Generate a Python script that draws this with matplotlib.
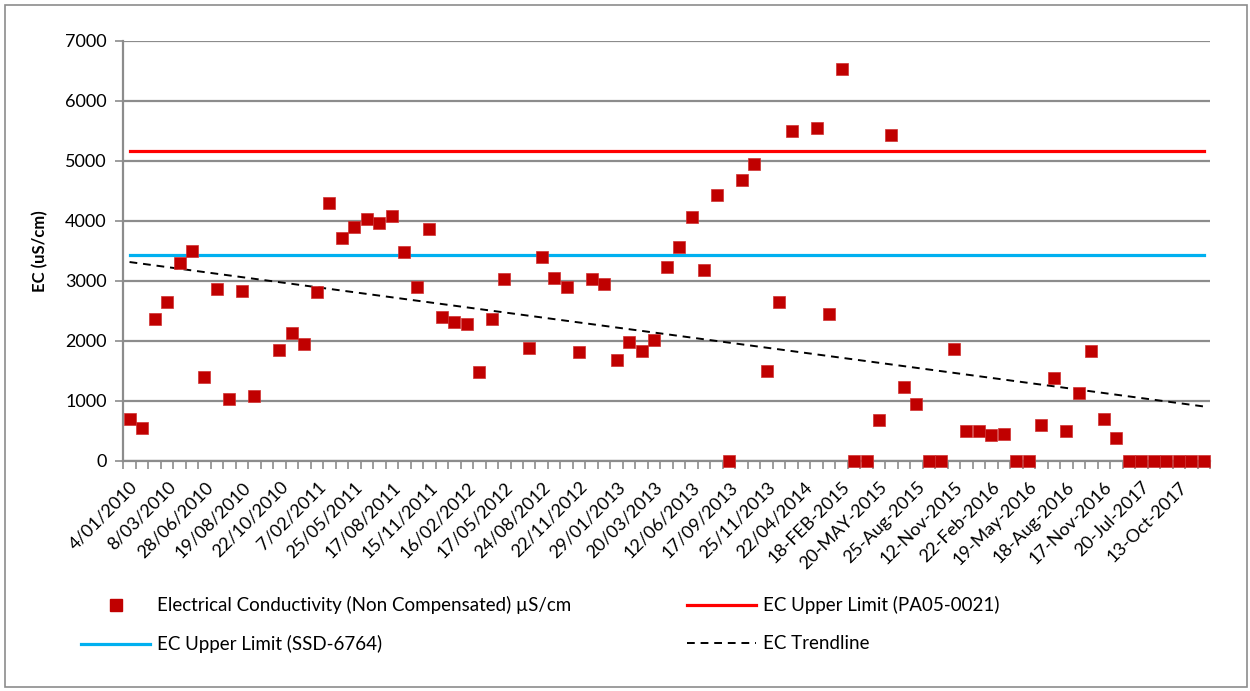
import numpy as np
import matplotlib.pyplot as plt
from matplotlib.lines import Line2D
from matplotlib.patches import Rectangle

plt.rcParams['font.family'] = ['Lato', 'DejaVu Sans']

nan = np.nan
# EC readings, one per sampling date (87 categories, blanks as nan)
ec = [700, 550, 2360, 2640, 3290, 3490, 1390, 2860, 1030, 2820, 1070, nan,
      1840, 2120, 1940, 2810, 4300, 3710, 3900, 4020, 3960, 4070, 3480, 2890,
      3860, 2390, 2310, 2270, 1480, 2360, 3030, nan, 1870, 3400, 3050, 2890,
      1810, 3030, 2950, 1670, 1970, 1820, 2010, 3230, 3560, 4060, 3180, 4420,
      0, 4680, 4940, 1490, 2640, 5490, nan, 5550, 2450, 6520, 0, 0,
      680, 5430, 1220, 950, 0, 0, 1860, 490, 500, 420, 450, 0,
      0, 590, 1370, 500, 1130, 1830, 690, 380, 0, 0, 0, 0,
      0, 0, 0]

# labels shown on every 3rd category
tick_labels = ['4/01/2010', '8/03/2010', '28/06/2010', '19/08/2010', '22/10/2010',
               '7/02/2011', '25/05/2011', '17/08/2011', '15/11/2011', '16/02/2012',
               '17/05/2012', '24/08/2012', '22/11/2012', '29/01/2013', '20/03/2013',
               '12/06/2013', '17/09/2013', '25/11/2013', '22/04/2014', '18-FEB-2015',
               '20-MAY-2015', '25-Aug-2015', '12-Nov-2015', '22-Feb-2016', '19-May-2016',
               '18-Aug-2016', '17-Nov-2016', '20-Jul-2017', '13-Oct-2017']

limit_pa05 = 5160
limit_ssd = 3430

ec = np.array(ec, dtype=float)
n = len(ec)
x = np.arange(n)

# linear trendline (least squares, blanks skipped)
ok = ~np.isnan(ec)
slope, icpt = np.polyfit(x[ok] + 1, ec[ok], 1)
trend = slope * (x + 1) + icpt

fig = plt.figure(figsize=(12.5, 6.91), dpi=100)
ax = fig.add_axes([123.3 / 1250, 1 - 460.7 / 691, (1210 - 123.3) / 1250, 420 / 691])

grid_col = '#8c8c8c'
ax.plot(x, [limit_pa05] * n, color='#ff0000', lw=2.3, zorder=2)
ax.plot(x, [limit_ssd] * n, color='#00b0f0', lw=2.3, zorder=2)
ax.plot(x, trend, color='black', lw=1.4, ls=(0, (4, 3)), zorder=3)
ax.plot(x, ec, ls='none', marker='s', ms=8.5, color='#c00000',
        markeredgecolor='#d03030', markeredgewidth=0.5, zorder=4, clip_on=False)

ax.set_xlim(-0.5, n - 0.5)
ax.set_ylim(0, 7000)
ax.set_yticks(np.arange(0, 7001, 1000))
ax.yaxis.grid(True, color=grid_col, lw=1.6)
ax.set_axisbelow(True)

# category boundary ticks, labels at every 3rd category
ax.set_xticks(np.arange(-0.5, n, 1))
ax.set_xticklabels([])
ax.set_xticks(np.arange(0, n, 3)[:len(tick_labels)], minor=True)
ax.set_xticklabels(tick_labels, minor=True, rotation=45, ha='right', va='top',
                   rotation_mode='anchor', fontsize=13)
ax.tick_params(axis='x', which='major', length=6, width=1.2, color=grid_col, direction='out')
ax.tick_params(axis='x', which='minor', length=0, pad=13)
ax.tick_params(axis='y', length=6, width=1.2, color=grid_col, labelsize=13, pad=6)

for s in ['top', 'right']:
    ax.spines[s].set_visible(False)
for s in ['left', 'bottom']:
    ax.spines[s].set_color(grid_col)
    ax.spines[s].set_linewidth(1.6)

ax.set_ylabel('EC (uS/cm)', fontsize=12, fontweight='bold', labelpad=12)

# legend, two columns placed separately
h_ec = Line2D([], [], ls='none', marker='s', ms=8.5, color='#c00000')
h_ssd = Line2D([], [], color='#00b0f0', lw=2.3)
h_pa = Line2D([], [], color='#ff0000', lw=2.3)
h_tr = Line2D([], [], color='black', lw=1.4, ls=(0, (4, 3)))
kw = dict(frameon=False, fontsize=13.5, handlelength=3.68, handletextpad=0.37,
          labelspacing=1.12, borderaxespad=0, borderpad=0)
fig.legend([h_ec, h_ssd], ['Electrical Conductivity (Non Compensated) µS/cm',
                           'EC Upper Limit (SSD-6764)'],
           loc='upper left', bbox_to_anchor=(81 / 1250, 1 - 596 / 691), **kw)
fig.legend([h_pa, h_tr], ['EC Upper Limit (PA05-0021)', 'EC Trendline'],
           loc='upper left', bbox_to_anchor=(687 / 1250, 1 - 596 / 691), **kw)

fig.patches.append(Rectangle((5 / 1250, 4 / 691), 1242 / 1250, 682 / 691,
                             transform=fig.transFigure, fill=False,
                             edgecolor=grid_col, lw=1.2))

fig.savefig('out.png', dpi=100)
